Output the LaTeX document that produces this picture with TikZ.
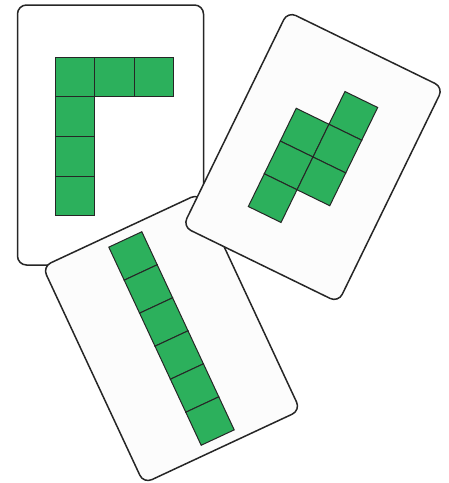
\documentclass[tikz,border=0pt]{standalone}
\definecolor{tilegreen}{RGB}{44,176,92}
\definecolor{cardfill}{RGB}{252,252,252}
\begin{document}
\begin{tikzpicture}[x=1pt,y=-1pt,
  card/.style={draw=black!85,line width=1.5pt,fill=cardfill,rounded corners=9pt},
  tile/.style={draw=black!85,line width=1pt,fill=tilegreen}]
\useasboundingbox (0,0) rectangle (449,483);
% upright card, L shape
\draw[card,fill=white] (17.5,5) rectangle (203.5,265);
\foreach \c/\r in {0/0,1/0,2/0,0/1,0/2,0/3}
  \draw[tile] (55+39.6*\c,57.3+39.6*\r) rectangle ++(39.6,39.6);
% bottom card, straight column
\begin{scope}[shift={(171.5,338.5)},rotate=25,scale=0.92]
\draw[card] (-94,-130) rectangle (94,130);
\foreach \r in {0,...,5}
  \draw[tile] (-19.8,-118.8+39.6*\r) rectangle ++(39.6,39.6);
\end{scope}
% right card, two offset columns
\begin{scope}[shift={(313,157)},rotate=-26,scale=0.92]
\draw[card] (-94,-130) rectangle (94,130);
\foreach \c/\r in {1/0,0/1,1/1,0/2,1/2,0/3}
  \draw[tile] (-39.6+39.6*\c,-79.2+39.6*\r) rectangle ++(39.6,39.6);
\end{scope}
\end{tikzpicture}
\end{document}
